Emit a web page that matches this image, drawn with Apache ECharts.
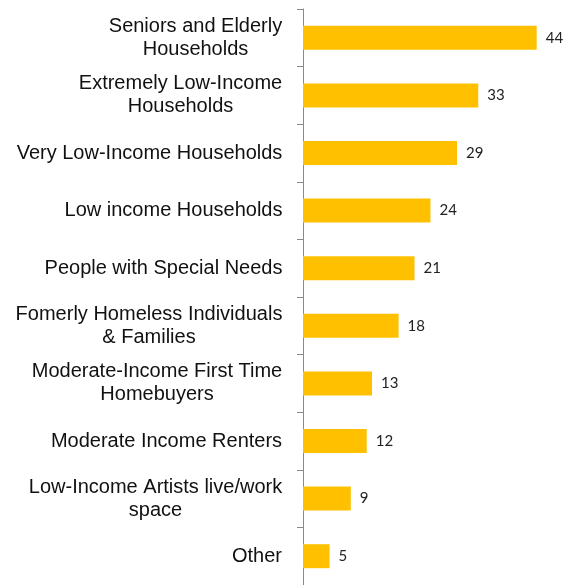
<!DOCTYPE html>
<html>
<head>
<meta charset="utf-8">
<script src="https://cdn.jsdelivr.net/npm/echarts@6/dist/echarts.min.js"></script>
<style>
html,body{margin:0;padding:0;background:#fff;}
#c{width:564px;height:585px;}
</style>
</head>
<body>
<div id="c"></div>
<script>
const categories = [
  'Seniors and Elderly\nHouseholds',
  'Extremely Low-Income\nHouseholds',
  'Very Low-Income Households',
  'Low income Households',
  'People with Special Needs',
  'Fomerly Homeless Individuals\n& Families',
  'Moderate-Income First Time\nHomebuyers',
  'Moderate Income Renters',
  'Low-Income Artists live/work\nspace',
  'Other'
];
const values = [44, 33, 29, 24, 21, 18, 13, 12, 9, 5];

const FONT_SIZE = 20;
const FONT_FAMILY = "'Liberation Sans', Arial, Helvetica, sans-serif";
const ctx = document.createElement('canvas').getContext('2d');
ctx.font = FONT_SIZE + 'px ' + FONT_FAMILY;
const rich = {};
categories.forEach((c, i) => {
  const w = Math.max(...c.split('\n').map(l => ctx.measureText(l).width));
  rich['c' + i] = {
    width: Math.ceil(w) + 1,
    align: 'center',
    fontSize: FONT_SIZE,
    fontFamily: FONT_FAMILY,
    lineHeight: 23,
    color: '#111'
  };
});

const chart = echarts.init(document.getElementById('c'), null, {renderer: 'canvas'});
chart.setOption({
  animation: false,
  grid: {left: 303, top: 9, width: 244.3, height: 585},
  xAxis: {
    type: 'value', min: 0, max: 46, show: false
  },
  yAxis: {
    type: 'category',
    inverse: true,
    data: categories,
    axisLine: {show: true, lineStyle: {color: '#8a8a8a', width: 1}},
    axisTick: {show: true, length: 6, lineStyle: {color: '#8a8a8a', width: 1}},
    axisLabel: {
      margin: 20,
      align: 'right',
      fontSize: FONT_SIZE,
      fontFamily: FONT_FAMILY,
      color: '#111',
      lineHeight: 23,
      formatter: function (value, idx) {
        return value.split('\n').map(l => '{c' + idx + '|' + l + '}').join('\n');
      },
      rich: rich
    },
    splitLine: {show: false}
  },
  series: [{
    type: 'bar',
    data: values,
    barWidth: 24,
    itemStyle: {color: '#FFC000'},
    label: {
      show: true,
      position: 'right',
      distance: 9,
      fontSize: 15,
      fontFamily: "Lato, 'Open Sans', sans-serif",
      color: '#222'
    }
  }]
});
</script>
</body>
</html>
